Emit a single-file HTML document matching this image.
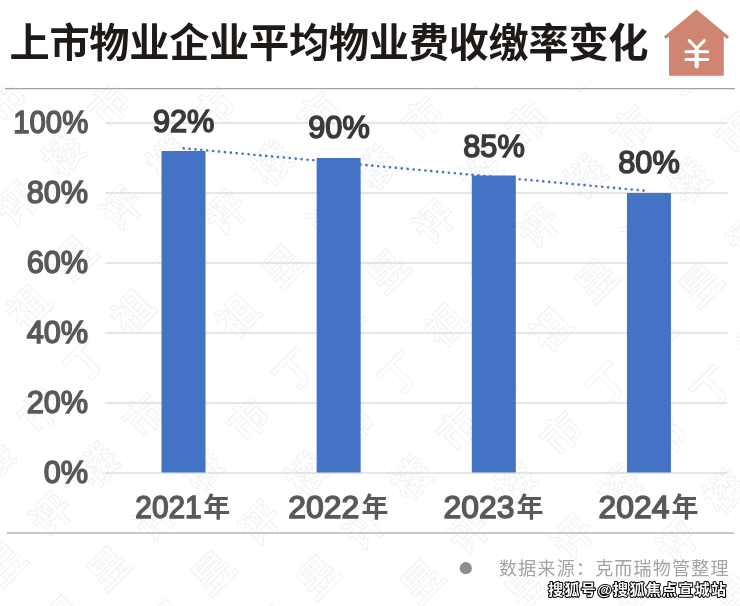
<!DOCTYPE html>
<html lang="zh"><head><meta charset="utf-8"><title>上市物业企业平均物业费收缴率变化</title>
<style>
html,body{margin:0;padding:0;background:#fff;}
body{width:740px;height:606px;overflow:hidden;font-family:"Liberation Sans",sans-serif;}
svg{display:block;will-change:transform;}
text{font-family:"Liberation Sans","Noto Sans CJK SC",sans-serif;font-size:30px;}
.title{fill:#1f1a18;font-size:40.2px;font-weight:bold;}
.house path{fill:#cf8571;}
.house .stem{stroke-width:4.2px !important;}
.house .yen{fill:none;stroke:#fff;stroke-width:3;stroke-linecap:round;stroke-linejoin:round;}
.rule{fill:none;}
.r1{stroke:#a4a4a4;stroke-width:1.2;}
.r2{stroke:#c9c9c9;stroke-width:2;}
.grid{stroke:#dedede;stroke-width:1.3;fill:none;}
.trend{stroke:#5077b4;stroke-width:2.6;stroke-dasharray:0.1 5.82;stroke-linecap:round;fill:none;}
.bar{fill:#4472c4;}
.ax{font-size:31px;fill:#595959;stroke:#595959;stroke-width:1.5px;}
.axp{fill:#595959;font-size:27px;font-weight:bold;}
.val{font-size:31.5px;fill:#3a3a3a;stroke:#3a3a3a;stroke-width:1.6px;}
.dot{fill:#8e8e8e;}
.src{fill:#a3a3a3;font-size:18px;}
.sohu{fill:#fff;stroke:#000;stroke-width:2.1px;paint-order:stroke fill;stroke-linejoin:round;font-size:15px;font-weight:bold;}
.wm text{fill:none;stroke:#f2f2f2;stroke-width:1.05;font-size:40px;font-weight:bold;text-anchor:middle;}
</style></head>
<body>
<svg width="740" height="606" viewBox="0 0 740 606" role="img" aria-label="上市物业企业平均物业费收缴率变化 柱状图">
<rect width="740" height="606" fill="#fff"/>
<defs><clipPath id="wc"><rect x="0" y="86" width="740" height="520"/></clipPath></defs><g class="wm" clip-path="url(#wc)"><text y="15" transform="translate(-6.0 -3.6) rotate(-45)">祖</text><text y="15" transform="translate(5.4 99.9) rotate(-45)">市</text><text y="15" transform="translate(51.9 50.4) rotate(-45)">丁</text><text y="15" transform="translate(98.4 0.9) rotate(-45)">祖</text><text y="15" transform="translate(-29.7 252.9) rotate(-45)">昱</text><text y="15" transform="translate(16.8 203.4) rotate(-45)">评</text><text y="15" transform="translate(63.3 153.9) rotate(-45)">楼</text><text y="15" transform="translate(109.8 104.4) rotate(-45)">市</text><text y="15" transform="translate(156.3 54.9) rotate(-45)">丁</text><text y="15" transform="translate(202.8 5.4) rotate(-45)">祖</text><text y="15" transform="translate(-18.3 356.4) rotate(-45)">丁</text><text y="15" transform="translate(28.2 306.9) rotate(-45)">祖</text><text y="15" transform="translate(74.7 257.4) rotate(-45)">昱</text><text y="15" transform="translate(121.2 207.9) rotate(-45)">评</text><text y="15" transform="translate(167.7 158.4) rotate(-45)">楼</text><text y="15" transform="translate(214.2 108.9) rotate(-45)">市</text><text y="15" transform="translate(260.7 59.4) rotate(-45)">丁</text><text y="15" transform="translate(307.2 9.9) rotate(-45)">祖</text><text y="15" transform="translate(-6.9 459.9) rotate(-45)">楼</text><text y="15" transform="translate(39.6 410.4) rotate(-45)">市</text><text y="15" transform="translate(86.1 360.9) rotate(-45)">丁</text><text y="15" transform="translate(132.6 311.4) rotate(-45)">祖</text><text y="15" transform="translate(179.1 261.9) rotate(-45)">昱</text><text y="15" transform="translate(225.6 212.4) rotate(-45)">评</text><text y="15" transform="translate(272.1 162.9) rotate(-45)">楼</text><text y="15" transform="translate(318.6 113.4) rotate(-45)">市</text><text y="15" transform="translate(365.1 63.9) rotate(-45)">丁</text><text y="15" transform="translate(411.6 14.4) rotate(-45)">祖</text><text y="15" transform="translate(4.5 563.4) rotate(-45)">昱</text><text y="15" transform="translate(51.0 513.9) rotate(-45)">评</text><text y="15" transform="translate(97.5 464.4) rotate(-45)">楼</text><text y="15" transform="translate(144.0 414.9) rotate(-45)">市</text><text y="15" transform="translate(190.5 365.4) rotate(-45)">丁</text><text y="15" transform="translate(237.0 315.9) rotate(-45)">祖</text><text y="15" transform="translate(283.5 266.4) rotate(-45)">昱</text><text y="15" transform="translate(330.0 216.9) rotate(-45)">评</text><text y="15" transform="translate(376.5 167.4) rotate(-45)">楼</text><text y="15" transform="translate(423.0 117.9) rotate(-45)">市</text><text y="15" transform="translate(469.5 68.4) rotate(-45)">丁</text><text y="15" transform="translate(516.0 18.9) rotate(-45)">祖</text><text y="15" transform="translate(62.4 617.4) rotate(-45)">祖</text><text y="15" transform="translate(108.9 567.9) rotate(-45)">昱</text><text y="15" transform="translate(155.4 518.4) rotate(-45)">评</text><text y="15" transform="translate(201.9 468.9) rotate(-45)">楼</text><text y="15" transform="translate(248.4 419.4) rotate(-45)">市</text><text y="15" transform="translate(294.9 369.9) rotate(-45)">丁</text><text y="15" transform="translate(341.4 320.4) rotate(-45)">祖</text><text y="15" transform="translate(387.9 270.9) rotate(-45)">昱</text><text y="15" transform="translate(434.4 221.4) rotate(-45)">评</text><text y="15" transform="translate(480.9 171.9) rotate(-45)">楼</text><text y="15" transform="translate(527.4 122.4) rotate(-45)">市</text><text y="15" transform="translate(573.9 72.9) rotate(-45)">丁</text><text y="15" transform="translate(620.4 23.4) rotate(-45)">祖</text><text y="15" transform="translate(666.9 -26.1) rotate(-45)">昱</text><text y="15" transform="translate(166.8 621.9) rotate(-45)">祖</text><text y="15" transform="translate(213.3 572.4) rotate(-45)">昱</text><text y="15" transform="translate(259.8 522.9) rotate(-45)">评</text><text y="15" transform="translate(306.3 473.4) rotate(-45)">楼</text><text y="15" transform="translate(352.8 423.9) rotate(-45)">市</text><text y="15" transform="translate(399.3 374.4) rotate(-45)">丁</text><text y="15" transform="translate(445.8 324.9) rotate(-45)">祖</text><text y="15" transform="translate(492.3 275.4) rotate(-45)">昱</text><text y="15" transform="translate(538.8 225.9) rotate(-45)">评</text><text y="15" transform="translate(585.3 176.4) rotate(-45)">楼</text><text y="15" transform="translate(631.8 126.9) rotate(-45)">市</text><text y="15" transform="translate(678.3 77.4) rotate(-45)">丁</text><text y="15" transform="translate(724.8 27.9) rotate(-45)">祖</text><text y="15" transform="translate(271.2 626.4) rotate(-45)">祖</text><text y="15" transform="translate(317.7 576.9) rotate(-45)">昱</text><text y="15" transform="translate(364.2 527.4) rotate(-45)">评</text><text y="15" transform="translate(410.7 477.9) rotate(-45)">楼</text><text y="15" transform="translate(457.2 428.4) rotate(-45)">市</text><text y="15" transform="translate(503.7 378.9) rotate(-45)">丁</text><text y="15" transform="translate(550.2 329.4) rotate(-45)">祖</text><text y="15" transform="translate(596.7 279.9) rotate(-45)">昱</text><text y="15" transform="translate(643.2 230.4) rotate(-45)">评</text><text y="15" transform="translate(689.7 180.9) rotate(-45)">楼</text><text y="15" transform="translate(736.2 131.4) rotate(-45)">市</text><text y="15" transform="translate(375.6 630.9) rotate(-45)">祖</text><text y="15" transform="translate(422.1 581.4) rotate(-45)">昱</text><text y="15" transform="translate(468.6 531.9) rotate(-45)">评</text><text y="15" transform="translate(515.1 482.4) rotate(-45)">楼</text><text y="15" transform="translate(561.6 432.9) rotate(-45)">市</text><text y="15" transform="translate(608.1 383.4) rotate(-45)">丁</text><text y="15" transform="translate(654.6 333.9) rotate(-45)">祖</text><text y="15" transform="translate(701.1 284.4) rotate(-45)">昱</text><text y="15" transform="translate(747.6 234.9) rotate(-45)">评</text><text y="15" transform="translate(480.0 635.4) rotate(-45)">祖</text><text y="15" transform="translate(526.5 585.9) rotate(-45)">昱</text><text y="15" transform="translate(573.0 536.4) rotate(-45)">评</text><text y="15" transform="translate(619.5 486.9) rotate(-45)">楼</text><text y="15" transform="translate(666.0 437.4) rotate(-45)">市</text><text y="15" transform="translate(712.5 387.9) rotate(-45)">丁</text><text y="15" transform="translate(759.0 338.4) rotate(-45)">祖</text><text y="15" transform="translate(630.9 590.4) rotate(-45)">昱</text><text y="15" transform="translate(677.4 540.9) rotate(-45)">评</text><text y="15" transform="translate(723.9 491.4) rotate(-45)">楼</text><text y="15" transform="translate(735.3 594.9) rotate(-45)">昱</text></g>
<text class="title" x="9.5" y="56.5" textLength="639" lengthAdjust="spacing">上市物业企业平均物业费收缴率变化</text>
<g class="house"><path d="M696.5 9.6 L729 36.6 L727.2 39 L723.8 36.4 V75.7 H669 V36.4 L665.8 39 L664 36.6 Z"/><path class="yen" d="M689.2 40.6 L696.7 48.3 L704.4 40.6 M685.9 51.7 H707.7 M685.9 59.6 H707.7"/><path class="yen stem" d="M696.7 48.5 V66.3"/></g>
<path class="rule r1" d="M5 88.6 H735"/>
<path class="rule r2" d="M7 533 H734.5"/>
<path class="grid" d="M105.3 473.0 H727.5M105.3 403.0 H727.5M105.3 333.0 H727.5M105.3 263.0 H727.5M105.3 193.0 H727.5M105.3 123.0 H727.5"/>
<path class="trend" d="M183.6 148.3 L647 190.9"/>
<rect class="bar" x="161.5" y="151.0" width="44.0" height="321.5"/>
<rect class="bar" x="316.65" y="158.0" width="44.0" height="314.5"/>
<rect class="bar" x="471.8" y="175.5" width="44.0" height="297.0"/>
<rect class="bar" x="626.95" y="193.0" width="44.0" height="279.5"/>
<text class="ax" transform="translate(88.2 483.0) scale(0.992 1)" text-anchor="end">0%</text>
<text class="ax" transform="translate(88.2 413.0) scale(0.992 1)" text-anchor="end">20%</text>
<text class="ax" transform="translate(88.2 343.0) scale(0.992 1)" text-anchor="end">40%</text>
<text class="ax" transform="translate(88.2 273.0) scale(0.992 1)" text-anchor="end">60%</text>
<text class="ax" transform="translate(88.2 203.0) scale(0.992 1)" text-anchor="end">80%</text>
<text class="ax" transform="translate(88.2 133.0) scale(0.946 1)" text-anchor="end">100%</text>
<text class="val" transform="translate(183.65 131.8) scale(0.975 1)" text-anchor="middle">92%</text>
<text class="val" transform="translate(339.0 138.3) scale(0.975 1)" text-anchor="middle">90%</text>
<text class="val" transform="translate(494.0 156.5) scale(0.975 1)" text-anchor="middle">85%</text>
<text class="val" transform="translate(649.0 173.3) scale(0.975 1)" text-anchor="middle">80%</text>
<text class="ax" transform="translate(135.30 517.7) scale(0.962 1)">2021</text>
<text class="axp" x="203.2" y="517.2">年</text>
<text class="ax" transform="translate(288.30 517.7) scale(1.028 1)">2022</text>
<text class="axp" x="361.6" y="517.2">年</text>
<text class="ax" transform="translate(443.60 517.7) scale(1.028 1)">2023</text>
<text class="axp" x="516.6" y="517.2">年</text>
<text class="ax" transform="translate(598.60 517.7) scale(1.028 1)">2024</text>
<text class="axp" x="671.6" y="517.2">年</text>
<circle class="dot" cx="465.8" cy="568.2" r="6.1"/>
<text class="src" x="499" y="575" textLength="229.5" lengthAdjust="spacing">数据来源：克而瑞物管整理</text>
<text class="sohu" x="548.2" y="594.5" textLength="177.8" lengthAdjust="spacing">搜狐号@搜狐焦点宣城站</text>
</svg>
</body></html>
